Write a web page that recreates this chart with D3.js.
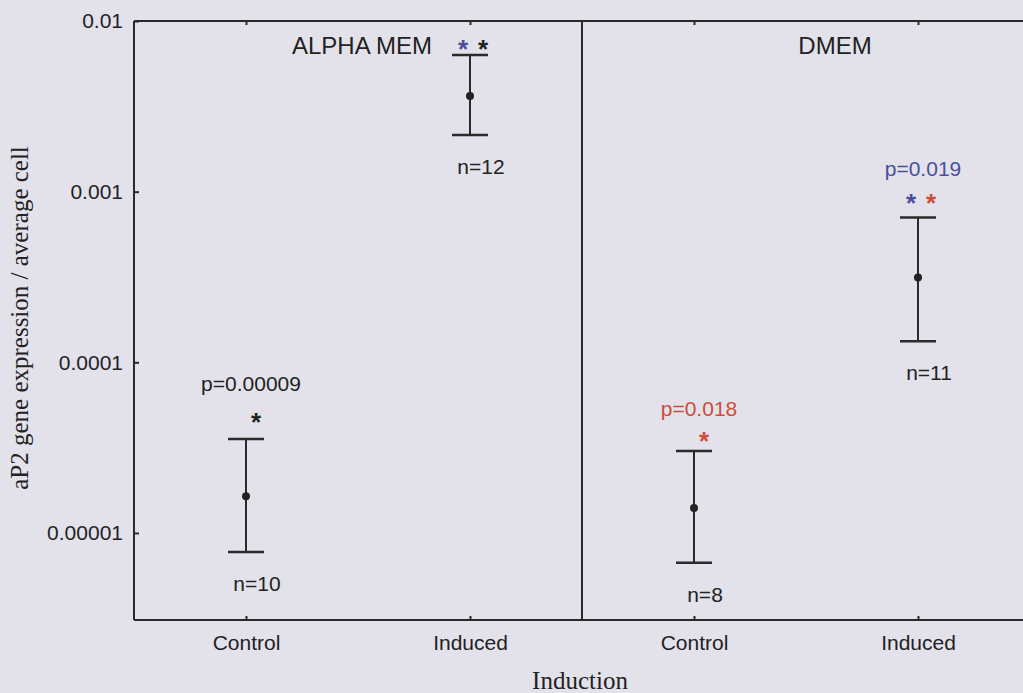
<!DOCTYPE html>
<html lang="en">
<head>
<meta charset="UTF-8">
<title>aP2 gene expression</title>
<script src="https://d3js.org/d3.v7.min.js"></script>
<style>
    body{ margin:0; background:#e3e2eb; }
    svg{ display:block; }
    .axis path, .axis line{ stroke:#2a2a2a; stroke-width:2px; }
    .axis text{ font-family:Arial, "Liberation Sans", sans-serif; font-size:21px; fill:#222; }
    .lbl{ font-family:Arial, "Liberation Sans", sans-serif; font-size:21px; fill:#222; }
    .serif{ font-family:"Liberation Serif", "DejaVu Serif", serif; font-size:25px; fill:#222; }
    .bar{ stroke:#2a2a2a; stroke-width:2px; }
</style>
</head>
<body>
<svg width="1023" height="693"></svg>
<script>
    // data
    let media = ["ALPHA MEM", "DMEM"];
    let groups = ["Control", "Induced"];
    let means = [[1.64e-5, 3.64e-3], [1.40e-5, 3.14e-4]];
    let upper = [[3.55e-5, 6.32e-3], [3.02e-5, 7.05e-4]];
    let lower = [[7.74e-6, 2.15e-3], [6.68e-6, 1.33e-4]];
    let nLabels = [["n=10", "n=12"], ["n=8", "n=11"]];
    let pLabels = [["p=0.00009", ""], ["p=0.018", "p=0.019"]];
    let pColors = [["#222", "#222"], ["#cf4b38", "#4a4f9c"]];
    let stars = [[["#222"], ["#4a4f9c", "#222"]], [["#cf4b38"], ["#4a4f9c", "#cf4b38"]]];
    let yTicks = [1e-5, 1e-4, 1e-3, 1e-2];
    let yTickLabels = ["0.00001", "0.0001", "0.001", "0.01"];

    let svg = d3.select('svg');
    let pLeft = 134, pTop = 21, pBottom = 620, pRight = 1030;

    let yscale = d3.scaleLog().domain([Math.pow(10, -5.51), 1e-2]).range([pBottom, pTop]);
    let panel = d3.scaleBand().domain(media).range([pLeft, pRight]);
    let inner = d3.scalePoint().domain(groups).range([0, panel.bandwidth()]).padding(0.5);

    // frame lines
    svg.append('line').attr('x1', pLeft).attr('x2', 1023).attr('y1', pTop).attr('y2', pTop)
        .attr('stroke', '#2a2a2a').attr('stroke-width', 2);
    svg.append('line').attr('x1', panel(media[1])).attr('x2', panel(media[1]))
        .attr('y1', pTop).attr('y2', pBottom).attr('stroke', '#2a2a2a').attr('stroke-width', 2);

    // y axis
    let yAxis = svg.append('g').attr('class', 'axis')
        .attr('transform', 'translate(' + pLeft + ',0)')
        .call(d3.axisLeft(yscale).tickValues(yTicks).tickSize(-5).tickPadding(11)
            .tickFormat(function (d, i) { return yTickLabels[i]; }));
    yAxis.select('.domain').attr('d', 'M0,' + pTop + 'V' + pBottom);

    // x axes per panel
    media.forEach(function (m) {
        let g = svg.append('g').attr('class', 'axis')
            .attr('transform', 'translate(' + panel(m) + ',' + pBottom + ')')
            .call(d3.axisBottom(inner).tickSize(-4).tickPadding(15));
        g.select('.domain').attr('d', 'M0,0H' + panel.bandwidth());
        svg.append('g').attr('class', 'axis')
            .attr('transform', 'translate(' + panel(m) + ',' + pTop + ')')
            .call(d3.axisTop(inner).tickSize(-4).tickFormat(''))
            .select('.domain').remove();
    });

    // panel titles
    let titleDx = [4, 29];
    media.forEach(function (m, i) {
        svg.append('text').attr('class', 'lbl').style('font-size', '24px')
            .attr('x', panel(m) + panel.bandwidth() / 2 + titleDx[i]).attr('y', 54)
            .attr('text-anchor', 'middle').text(m);
    });

    // error bars
    let capW = 18;
    let pDy = [[48, 0], [35, 42]];
    let starDy = [[22, 11], [15, 20]];
    media.forEach(function (m, i) {
        groups.forEach(function (gname, j) {
            let x = panel(m) + inner(gname);
            let yu = yscale(upper[i][j]), yl = yscale(lower[i][j]), ym = yscale(means[i][j]);
            let g = svg.append('g');
            g.append('line').attr('class', 'bar').attr('x1', x).attr('x2', x).attr('y1', yu).attr('y2', yl);
            g.append('line').attr('class', 'bar').attr('x1', x - capW).attr('x2', x + capW).attr('y1', yu).attr('y2', yu)
                .style('stroke-width', '2.5px');
            g.append('line').attr('class', 'bar').attr('x1', x - capW).attr('x2', x + capW).attr('y1', yl).attr('y2', yl)
                .style('stroke-width', '2.5px');
            g.append('circle').attr('cx', x).attr('cy', ym).attr('r', 4).attr('fill', '#222');

            g.append('text').attr('class', 'lbl').attr('x', x + 11).attr('y', yl + 39)
                .attr('text-anchor', 'middle').text(nLabels[i][j]);
            if (pLabels[i][j]) {
                g.append('text').attr('class', 'lbl').attr('x', x + 5).attr('y', yu - pDy[i][j])
                    .attr('text-anchor', 'middle').style('fill', pColors[i][j])
                    .text(pLabels[i][j]);
            }
            let s = stars[i][j];
            s.forEach(function (c, k) {
                let sx = s.length === 1 ? x + 10 : x - 7 + k * 20;
                g.append('text').attr('x', sx).attr('y', yu - starDy[i][j] + 14)
                    .attr('text-anchor', 'middle').style('font-family', 'Arial, sans-serif')
                    .style('font-size', '26px').style('font-weight', 'bold').style('fill', c).text('*');
            });
        });
    });

    // axis titles
    svg.append('text').attr('class', 'serif')
        .attr('transform', 'translate(28,' + 318 + ') rotate(-90)')
        .attr('text-anchor', 'middle').text('aP2 gene expression / average cell');
    svg.append('text').attr('class', 'serif')
        .attr('x', 580).attr('y', 689).attr('text-anchor', 'middle').text('Induction');
</script>
</body>
</html>
